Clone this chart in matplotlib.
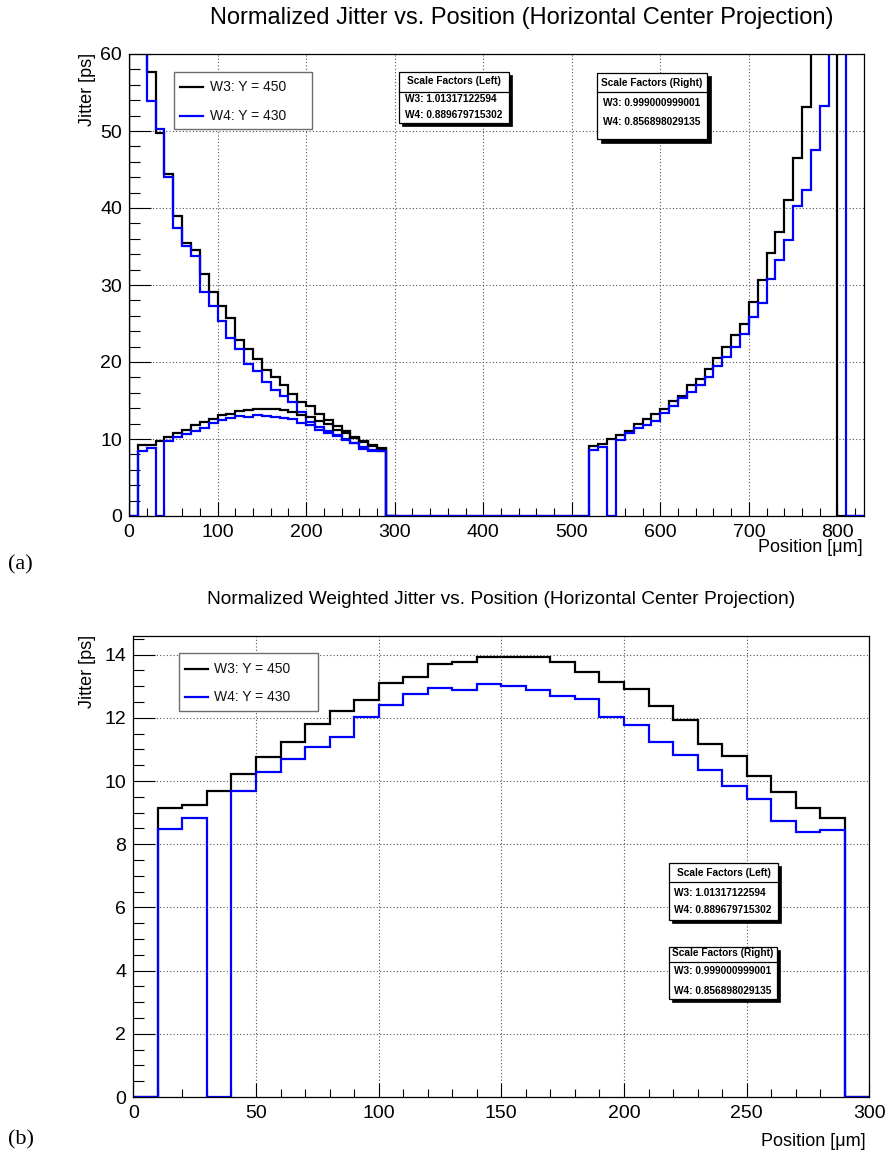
import numpy as np
import matplotlib
matplotlib.use("Agg")
import matplotlib.pyplot as plt
from matplotlib.patches import Rectangle
from matplotlib.lines import Line2D
from matplotlib.ticker import MultipleLocator

plt.rcParams["font.family"] = ["Liberation Sans", "DejaVu Sans"]

W, H = 886, 1160
BIN = 10

# ---- data -----------------------------------------------------------------
# Jitter profile, left edge region (bins 0-10 ... 280-290 um)
w3_left = [72, 66, 57.7, 49.7, 44.4, 38.9, 35.4, 34.5, 31.4, 29.05, 27.3, 25.7,
           22.9, 21.7, 20.4, 18.9, 18.0, 17.0, 15.9, 14.85, 14.3, 13.2, 12.5,
           11.65, 11.04, 10.25, 9.76, 9.13, 8.76]
w4_left = [70, 64, 53.9, 50.3, 44.0, 37.45, 35.1, 33.8, 29.05, 27.3, 25.3, 23.1,
           21.7, 19.7, 18.85, 17.45, 16.4, 15.6, 14.85, 13.57, 12.2, 11.6, 11.05,
           10.55, 10.0, 9.5, 8.95, 8.55, 8.49]
# Jitter profile, right edge region (bins 520-530 ... 800-810 um)
w3_right = [9.13, 9.35, 9.96, 10.52, 11.08, 11.9, 12.6, 13.25, 13.9, 14.98, 15.63,
            17.0, 17.75, 19.05, 20.48, 21.95, 23.5, 24.94, 27.8, 30.65, 34.2,
            36.84, 41.1, 46.5, 53.1, 66, 70, 75, 0]
w4_right = [8.57, 9.0, 0, 9.9, 10.74, 11.39, 11.82, 12.38, 13.4, 14.29, 15.28,
            16.15, 17.0, 18.1, 19.48, 20.7, 21.99, 23.7, 25.9, 27.7, 30.73, 33.2,
            35.8, 40.3, 42.4, 47.5, 53.3, 68, 72]
# Weighted jitter (bins 0-10 ... 290-300 um)
w3_weighted = [0, 9.16, 9.25, 9.70, 10.21, 10.76, 11.23, 11.81, 12.21, 12.57, 13.11,
               13.28, 13.69, 13.76, 13.92, 13.93, 13.93, 13.76, 13.45, 13.13, 12.92,
               12.36, 11.92, 11.18, 10.78, 10.16, 9.65, 9.16, 8.84, 0]
w4_weighted = [0, 8.47, 8.84, 0, 9.70, 10.30, 10.70, 11.07, 11.39, 12.04, 12.42,
               12.76, 12.94, 12.89, 13.07, 13.02, 12.89, 12.68, 12.60, 12.04, 11.76,
               11.23, 10.82, 10.35, 9.84, 9.42, 8.75, 8.38, 8.44, 0]

series_labels = ["W3: Y = 450", "W4: Y = 430"]
scale_left = ["W3: 1.01317122594", "W4: 0.889679715302"]
scale_right = ["W3: 0.999000999001", "W4: 0.856898029135"]

full_range = (0, 830)
left_start, right_start = 0, 520

# ---- helpers --------------------------------------------------------------
def full_profile(left, right):
    nbins = (full_range[1] - full_range[0]) // BIN
    vals = np.zeros(nbins)
    i0 = (left_start - full_range[0]) // BIN
    vals[i0:i0 + len(left)] = left
    j0 = (right_start - full_range[0]) // BIN
    vals[j0:j0 + len(right)] = right
    edges = np.arange(full_range[0], full_range[1] + BIN, BIN)
    return vals, edges


def fx(px):
    return px / W


def fy(py):
    return 1 - py / H


def add_rect(x0, y0, x1, y1, fc, ec, lw, z):
    r = Rectangle((fx(x0), fy(y1)), (x1 - x0) / W, (y1 - y0) / H,
                  transform=fig.transFigure, facecolor=fc, edgecolor=ec,
                  linewidth=lw, zorder=z)
    fig.add_artist(r)


def legend_box(x0, y0, x1, y1, rows, line_x, text_x, fs):
    add_rect(x0, y0, x1, y1, "white", "#6e6e6e", 1.0, 10)
    for (color, label, yy) in rows:
        fig.add_artist(Line2D([fx(line_x[0]), fx(line_x[1])], [fy(yy), fy(yy)],
                              transform=fig.transFigure, color=color, lw=1.6,
                              zorder=11))
        fig.text(fx(text_x), fy(yy), label, fontsize=fs, va="center",
                 ha="left", zorder=11, color="#111111")


def scale_box(x0, y0, x1, y1, sep, header, rows, text_x, header_y, fs, sh=3.5):
    add_rect(x0 + sh, y0 + sh, x1 + sh, y1 + sh, "black", "black", 0.5, 10)
    add_rect(x0, y0, x1, y1, "white", "black", 0.9, 11)
    fig.add_artist(Line2D([fx(x0), fx(x1)], [fy(sep), fy(sep)],
                          transform=fig.transFigure, color="black", lw=0.9,
                          zorder=12))
    fig.text(fx((x0 + x1) / 2), fy(header_y), header, fontsize=fs,
             fontweight="bold", ha="center", va="center", zorder=12)
    for label, yy in rows:
        fig.text(fx(text_x), fy(yy), label, fontsize=fs, fontweight="bold",
                 ha="left", va="center", zorder=12)


def style_axes(ax, xmaj, xmin, ymaj, ymin):
    ax.xaxis.set_major_locator(MultipleLocator(xmaj))
    ax.xaxis.set_minor_locator(MultipleLocator(xmin))
    ax.yaxis.set_major_locator(MultipleLocator(ymaj))
    ax.yaxis.set_minor_locator(MultipleLocator(ymin))
    ax.tick_params(axis="both", which="both", direction="in", width=0.8,
                   color="black", labelsize=14)
    ax.tick_params(axis="y", which="major", length=16, pad=5)
    ax.tick_params(axis="y", which="minor", length=8)
    ax.tick_params(axis="x", which="major", length=10, pad=6)
    ax.tick_params(axis="x", which="minor", length=5.5)
    ax.grid(True, which="major", color="#555555", linestyle=(0, (1, 2)),
            linewidth=0.8)
    ax.set_axisbelow(True)
    for s in ax.spines.values():
        s.set_linewidth(0.9)
        s.set_color("black")


fig = plt.figure(figsize=(W / 100, H / 100), dpi=100)

# ---- top panel ------------------------------------------------------------
ax1 = fig.add_axes([fx(129), fy(516), (864 - 129) / W, (516 - 54) / H])
v3, e = full_profile(w3_left, w3_right)
v4, _ = full_profile(w4_left, w4_right)
ax1.stairs(v3, e, color="black", lw=1.6, baseline=0)
ax1.stairs(v4, e, color="#0000ff", lw=1.6, baseline=0)
we = np.arange(0, len(w3_weighted) * BIN + BIN, BIN)
ax1.stairs(w3_weighted, we, color="black", lw=1.6, baseline=0)
ax1.stairs(w4_weighted, we, color="#0000ff", lw=1.6, baseline=0)
ax1.set_xlim(*full_range)
ax1.set_ylim(0, 60)
style_axes(ax1, 100, 20, 10, 2)

fig.text(fx(522), fy(18), "Normalized Jitter vs. Position (Horizontal Center Projection)",
         fontsize=17, ha="center", va="center")
fig.text(fx(863), fy(548), "Position [\u03bcm]", fontsize=13, ha="right", va="center")
fig.text(fx(88), fy(53), "Jitter [ps]", fontsize=13, ha="center", va="top", rotation=90)
fig.text(fx(8), fy(565), "(a)", fontsize=16, family="Liberation Serif",
         ha="left", va="center")

legend_box(174, 72, 312, 129,
           [("black", series_labels[0], 87.3), ("#0000ff", series_labels[1], 116)],
           (180, 203), 210, 10)
scale_box(399, 72, 509, 123, 91.7, "Scale Factors (Left)",
          list(zip(scale_left, [99.5, 115])), 405, 81, 7.3, sh=3)
scale_box(597, 73, 707, 139, 92.3, "Scale Factors (Right)",
          list(zip(scale_right, [103, 121.7])), 603, 82.5, 7.3, sh=3.5)

# ---- bottom panel ---------------------------------------------------------
ax2 = fig.add_axes([fx(133.3), fy(1097), (869.3 - 133.3) / W, (1097 - 635.7) / H])
ax2.stairs(w3_weighted, we, color="black", lw=1.6, baseline=0)
ax2.stairs(w4_weighted, we, color="#0000ff", lw=1.6, baseline=0)
ax2.set_xlim(0, 300)
ax2.set_ylim(0, 14.6)
style_axes(ax2, 50, 10, 2, 0.5)

fig.text(fx(501), fy(600),
         "Normalized Weighted Jitter vs. Position (Horizontal Center Projection)",
         fontsize=13.8, ha="center", va="center")
fig.text(fx(866), fy(1142), "Position [\u03bcm]", fontsize=13, ha="right", va="center")
fig.text(fx(88), fy(635), "Jitter [ps]", fontsize=13, ha="center", va="top", rotation=90)
fig.text(fx(8), fy(1140), "(b)", fontsize=16, family="Liberation Serif",
         ha="left", va="center")

legend_box(179, 653, 318, 711,
           [("black", series_labels[0], 669.3), ("#0000ff", series_labels[1], 697.3)],
           (185, 208), 214, 10)
scale_box(669, 863, 778, 920, 882.3, "Scale Factors (Left)",
          list(zip(scale_left, [892.7, 910])), 673.5, 872.5, 7.3, sh=3)
scale_box(669, 947, 777, 999, 961.5, "Scale Factors (Right)",
          list(zip(scale_right, [970.7, 990.7])), 673.5, 952.5, 7.3, sh=3)

fig.savefig("out.png", dpi=100)
